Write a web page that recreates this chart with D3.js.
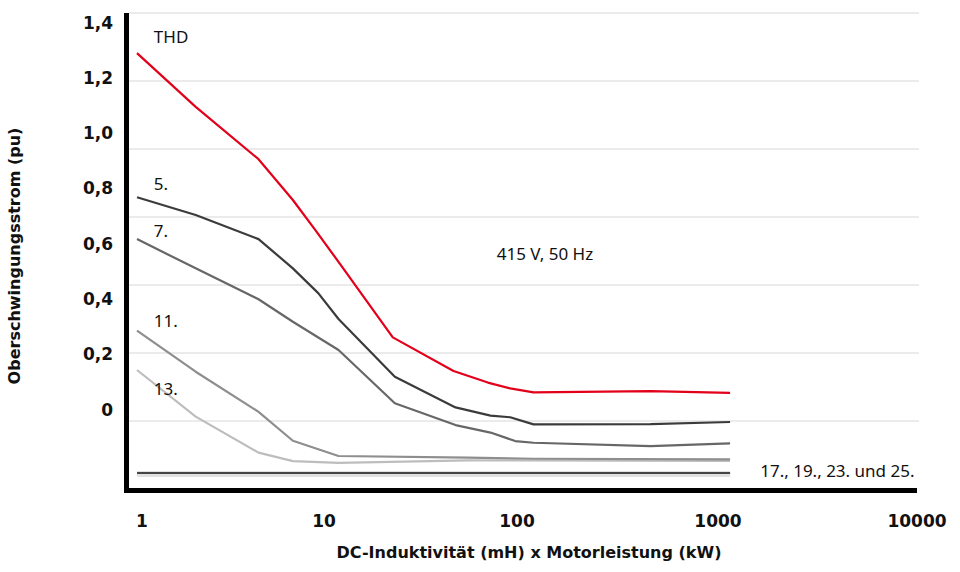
<!DOCTYPE html>
<html>
<head>
<meta charset="utf-8">
<script src="https://cdn.jsdelivr.net/npm/d3@7"></script>
<style>
  body { margin: 0; background: #fff; }
  .lbl { font-family: "Noto Sans", sans-serif; font-size: 17px; fill: #111; }
  .tick-lbl { font-family: "DejaVu Sans", sans-serif; font-weight: bold; font-size: 17px; fill: #111; }
  .axis-title { font-family: "DejaVu Sans", sans-serif; font-weight: bold; font-size: 16px; fill: #111; }
</style>
</head>
<body>
<div id="chart"></div>
<script>
// DC-Induktivität (mH) x Motorleistung (kW) -> Oberschwingungsstrom (pu)
const thdX = [1, 2, 4.2, 6.3, 8.2, 10.8, 20.5, 42, 63, 82, 108, 430, 1100];
const thdY = [1.282, 1.124, 0.970, 0.850, 0.762, 0.668, 0.446, 0.347, 0.313, 0.296, 0.284, 0.288, 0.283];

const h5X = [1, 2, 4.2, 6.3, 8.5, 10.8, 21, 43, 65, 82, 108, 430, 1100];
const h5Y = [0.858, 0.806, 0.735, 0.649, 0.576, 0.500, 0.330, 0.240, 0.216, 0.211, 0.190, 0.191, 0.197];

const h7X = [1, 2, 4.2, 6.3, 10.8, 21, 43, 65, 87, 108, 430, 1100];
const h7Y = [0.735, 0.649, 0.558, 0.492, 0.409, 0.252, 0.188, 0.166, 0.141, 0.136, 0.126, 0.134];

const h11X = [1, 2, 4.2, 6.3, 10.8, 50, 108, 1100];
const h11Y = [0.466, 0.345, 0.227, 0.142, 0.097, 0.092, 0.089, 0.087];

const h13X = [1, 2, 4.2, 6.3, 10.8, 50, 1100];
const h13Y = [0.350, 0.213, 0.107, 0.082, 0.077, 0.084, 0.083];

// 17., 19., 23. und 25. (nearly on top of each other)
const hHighX = [1, 1100];
const hHighBandY = [0.044, 0.044];
const hHighY = [0.047, 0.047];

const xTicks = [1, 10, 100, 1000, 10000];
const yTicks = [0, 0.2, 0.4, 0.6, 0.8, 1.0, 1.2, 1.4];
const gridValues = [0.2, 0.4, 0.6, 0.8, 1.0, 1.2, 1.4];

// curve labels: [text, x value, y value]
const curveLabels = [
  ["THD", 1.22, 1.312],
  ["5.", 1.22, 0.879],
  ["7.", 1.22, 0.742],
  ["11.", 1.22, 0.476],
  ["13.", 1.22, 0.276],
  ["415 V, 50 Hz", 70, 0.674],
  ["17., 19., 23. und 25.", 1570, 0.034]
];

const W = 960, H = 572;

const svg = d3.select('#chart').append('svg')
  .attr('width', W)
  .attr('height', H);

// scales
const x = d3.scaleLog().domain([1, 10000]).range([137, 917]);
const y = d3.scaleLinear().domain([0, 1.4]).range([489, 13]);
// the printed tick labels sit on their own, tighter spacing
const yLabel = d3.scaleLinear().domain([0, 1.4]).range([409, 22]);

// gridlines
svg.append('g')
  .selectAll('line')
  .data(gridValues)
  .join('line')
  .attr('x1', 129)
  .attr('x2', 919)
  .attr('y1', d => y(d))
  .attr('y2', d => y(d))
  .attr('stroke', '#e4e4e4')
  .attr('stroke-width', 1.5);

// series
const series = [
  { xs: hHighX, ys: hHighBandY, color: '#e2e2e2', width: 6 },
  { xs: hHighX, ys: hHighY, color: '#111', width: 1.6 },
  { xs: h13X, ys: h13Y, color: '#bdbdbd', width: 2.2 },
  { xs: h11X, ys: h11Y, color: '#8e8e8e', width: 2.2 },
  { xs: h7X, ys: h7Y, color: '#676767', width: 2.2 },
  { xs: h5X, ys: h5Y, color: '#3b3b3b', width: 2.2 },
  { xs: thdX, ys: thdY, color: '#e2001a', width: 2.2 }
];

const line = d3.line()
  .x(d => x(d[0]))
  .y(d => y(d[1]));

svg.append('g')
  .selectAll('path')
  .data(series)
  .join('path')
  .attr('d', s => line(d3.zip(s.xs, s.ys)))
  .attr('fill', 'none')
  .attr('stroke', s => s.color)
  .attr('stroke-width', s => s.width)
  .attr('stroke-linejoin', 'round');

// axis frame
svg.append('line')
  .attr('x1', 126.5).attr('x2', 126.5)
  .attr('y1', 13).attr('y2', 493)
  .attr('stroke', '#000').attr('stroke-width', 5);
svg.append('line')
  .attr('x1', 124).attr('x2', 917)
  .attr('y1', 490.5).attr('y2', 490.5)
  .attr('stroke', '#000').attr('stroke-width', 5);

// x tick labels
const xAxis = d3.axisBottom(x)
  .tickValues(xTicks)
  .tickSize(0)
  .tickFormat(d3.format('d'));
const xAxisG = svg.append('g')
  .attr('transform', 'translate(0,527)')
  .call(xAxis);
xAxisG.select('.domain').remove();
xAxisG.selectAll('text')
  .attr('class', 'tick-lbl')
  .attr('y', 0)
  .attr('dy', 0)
  .attr('font-size', null)
  .attr('font-family', null);
xAxisG.selectAll('.tick').attr('transform', d => `translate(${x(d) + (d === 1 ? 5 : d === 10 ? -8 : d === 100 ? -10 : d === 1000 ? -4 : 0)},0)`);

// y tick labels
const yAxis = d3.axisLeft(yLabel)
  .tickValues(yTicks)
  .tickSize(0)
  .tickPadding(0)
  .tickFormat(d => d === 0 ? '0' : d3.format('.1f')(d).replace('.', ','));
const yAxisG = svg.append('g')
  .attr('transform', 'translate(113,0)')
  .call(yAxis);
yAxisG.select('.domain').remove();
yAxisG.selectAll('text')
  .attr('class', 'tick-lbl')
  .attr('dy', '0.36em')
  .attr('font-size', null)
  .attr('font-family', null);

// curve labels
svg.append('g')
  .selectAll('text')
  .data(curveLabels)
  .join('text')
  .attr('class', 'lbl')
  .attr('x', d => x(d[1]))
  .attr('y', d => y(d[2]))
  .text(d => d[0]);

// axis titles
svg.append('text')
  .attr('class', 'axis-title')
  .attr('x', 529)
  .attr('y', 558)
  .attr('text-anchor', 'middle')
  .text('DC-Induktivität (mH) x Motorleistung (kW)');

svg.append('text')
  .attr('class', 'axis-title')
  .attr('transform', 'translate(20,256) rotate(-90)')
  .attr('text-anchor', 'middle')
  .text('Oberschwingungsstrom (pu)');
</script>
</body>
</html>
